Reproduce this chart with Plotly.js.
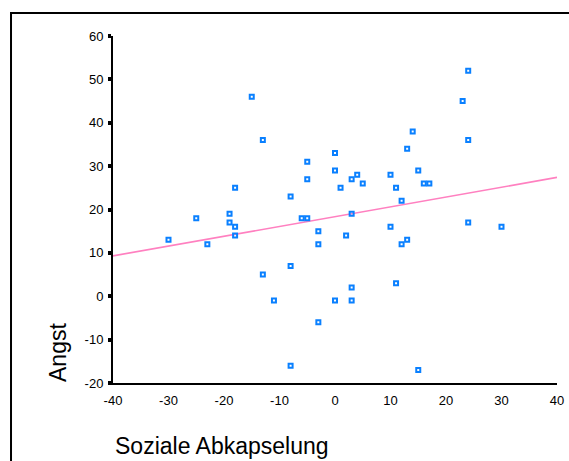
<!DOCTYPE html>
<html>
<head>
<meta charset="utf-8">
<script src="https://cdn.plot.ly/plotly-3.0.1.min.js"></script>
<style>
html,body{margin:0;padding:0;background:#fff;overflow:hidden;}
#chart{width:569px;height:461px;}
</style>
</head>
<body>
<div id="chart"></div>
<script>
// Soziale Abkapselung (x) vs Angst (y)
const sozialeAbkapselung = [-15,-13,-18,-8,-25,-19,-19,-18,-18,-30,-23,-6,-5,-5,-5,-3,-3,-8,-13,-11,-3,-8,0,0,1,3,4,5,3,2,3,0,3,10,11,12,10,12,13,11,14,13,15,16,17,15,23,24,24,24,30];
const angst =              [46,36,25,23,18,19,17,16,14,13,12,18,18,31,27,15,12,7,5,-1,-6,-16,33,29,25,27,28,26,19,14,2,-1,-1,28,25,22,16,12,13,3,38,34,29,26,26,-17,45,52,36,17,16];
const xTicks = [-40,-30,-20,-10,0,10,20,30,40];
const yTicks = [-20,-10,0,10,20,30,40,50,60];
const xRange = [-40, 40];
const yRange = [-20, 60];
// fit line (regression) at the axis ends
const fitX = [-40, 40];
const fitY = [9.3, 27.4];

const FONT = '"Liberation Sans", Arial, sans-serif';

const traces = [
  {x: fitX, y: fitY, type: 'scatter', mode: 'lines',
   line: {color: '#ff80c0', width: 1.6}, hoverinfo: 'skip', showlegend: false},
  {x: sozialeAbkapselung, y: angst, type: 'scatter', mode: 'markers',
   marker: {symbol: 'square-open', size: 4, color: '#0a80ff', line: {color: '#0a80ff', width: 2}},
   showlegend: false}
];

const layout = {
  width: 569, height: 461,
  margin: {l: 113, r: 12, t: 36, b: 78, pad: 0},
  paper_bgcolor: '#fff', plot_bgcolor: '#fff',
  font: {family: FONT, color: '#000', size: 13},
  showlegend: false,
  xaxis: {
    range: xRange, tickvals: xTicks, ticktext: xTicks.map(String),
    showgrid: false, zeroline: false, showline: true, linecolor: '#000', linewidth: 2,
    ticks: '', tickfont: {family: FONT, size: 13, color: '#000'}, ticklabelstandoff: 4
  },
  yaxis: {
    range: yRange, tickvals: yTicks, ticktext: yTicks.map(String),
    showgrid: false, zeroline: false, showline: true, linecolor: '#000', linewidth: 2,
    ticks: 'outside', ticklen: 3, tickwidth: 4, tickcolor: '#000',
    tickfont: {family: FONT, size: 13, color: '#000'}, ticklabelstandoff: 2
  },
  annotations: [
    {text: 'Soziale Abkapselung', xref: 'paper', yref: 'paper', x: 0, y: -0.1816,
     xanchor: 'left', yanchor: 'middle', showarrow: false,
     font: {family: FONT, size: 23, color: '#000'}},
    {text: 'Angst', xref: 'paper', yref: 'paper', x: -0.1239, y: 0.0893, textangle: -90,
     xanchor: 'center', yanchor: 'middle', showarrow: false,
     font: {family: FONT, size: 23, color: '#000'}}
  ],
  shapes: [
    {type: 'rect', xref: 'paper', yref: 'paper', x0: -0.2297, x1: 1.2, y0: -0.4, y1: 1.0663,
     line: {color: '#000', width: 2}, fillcolor: 'rgba(0,0,0,0)', layer: 'below'}
  ]
};

Plotly.newPlot('chart', traces, layout, {displayModeBar: false, staticPlot: true});
</script>
</body>
</html>
